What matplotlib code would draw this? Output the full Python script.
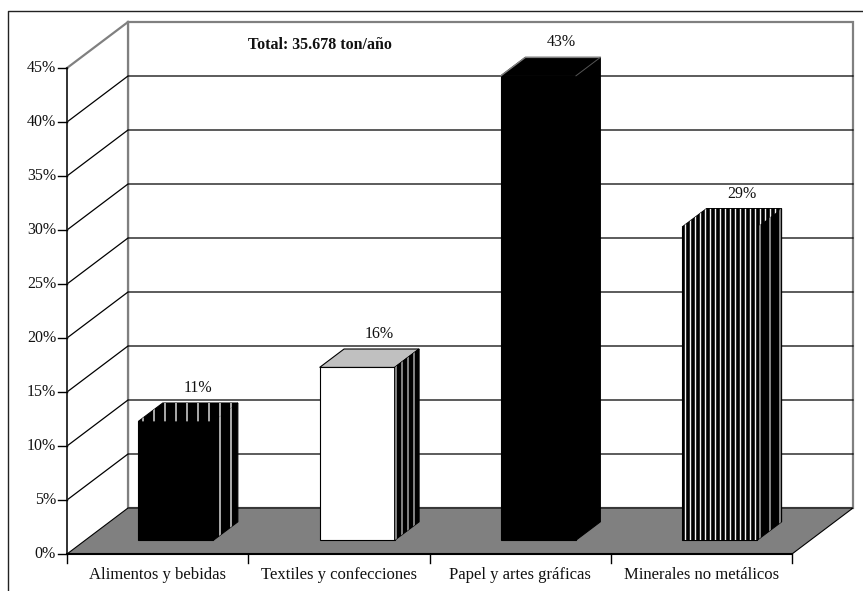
import matplotlib
matplotlib.use("Agg")
import matplotlib.pyplot as plt
from matplotlib.patches import Polygon

# Data
categories = ["Alimentos y bebidas", "Textiles y confecciones",
              "Papel y artes gráficas", "Minerales no metálicos"]
shares = [11, 16, 43, 29]            # percent
value_labels = ["11%", "16%", "43%", "29%"]
yticks = [0, 5, 10, 15, 20, 25, 30, 35, 40, 45]
total_text = "Total: 35.678 ton/año"

FONT = "Liberation Serif"

W, H = 863, 591
fig = plt.figure(figsize=(W / 100, H / 100), dpi=100)
ax = fig.add_axes([0, 0, 1, 1])
ax.set_xlim(0, W)
ax.set_ylim(H, 0)
ax.axis("off")

# oblique projection: category position x, value v (%), depth d (0 front .. 1 back)
X0, Y0 = 67.0, 554.0
CAT_W = 181.25
PX_PER_PCT = 10.8
DX, DY = 61.0, 46.0
VMAX = 45


def proj(x, v, d):
    return (X0 + CAT_W * x + DX * d, Y0 - PX_PER_PCT * v - DY * d)


GRAY = "#808080"

# outer frame
ax.plot([8, 8, W], [H, 11, 11], color="#222222", lw=1.0, zorder=0)

# back wall
n = len(categories)
back = [proj(0, 0, 1), proj(n, 0, 1), proj(n, VMAX, 1), proj(0, VMAX, 1)]
ax.add_patch(Polygon(back, closed=True, fc="white", ec=GRAY, lw=1.6, zorder=1))
# side wall
side = [proj(0, 0, 0), proj(0, 0, 1), proj(0, VMAX, 1), proj(0, VMAX, 0)]
ax.add_patch(Polygon(side, closed=True, fc="white", ec="none", zorder=1))
ax.plot(*zip(proj(0, VMAX, 0), proj(0, VMAX, 1)), color=GRAY, lw=1.6, zorder=2)
ax.plot(*zip(proj(0, 0, 1), proj(0, VMAX, 1)), color=GRAY, lw=1.6, zorder=2)

# gridlines on walls
for t in yticks[1:-1]:
    ax.plot(*zip(proj(0, t, 0), proj(0, t, 1), proj(n, t, 1)),
            color="black", lw=0.9, zorder=2)

# floor
floor = [proj(0, 0, 0), proj(n, 0, 0), proj(n, 0, 1), proj(0, 0, 1)]
ax.add_patch(Polygon(floor, closed=True, fc=GRAY, ec="black", lw=0.8, zorder=3))

# value axis
ax.plot(*zip(proj(0, 0, 0), proj(0, VMAX, 0)), color="#222222", lw=1.3, zorder=4)
for t in yticks:
    px, py = proj(0, t, 0)
    ax.plot([px - 9, px], [py, py], color="black", lw=1.0, zorder=4)
    ax.text(px - 11, py, f"{t}%", ha="right", va="center",
            fontsize=11.5, family=FONT, color="#111111")

# category axis
ax.plot(*zip(proj(0, 0, 0), proj(n, 0, 0)), color="black", lw=1.5, zorder=4)
for i in range(n + 1):
    px, py = proj(i, 0, 0)
    ax.plot([px, px], [py, py + 9], color="black", lw=1.0, zorder=4)
for i, c in enumerate(categories):
    px, py = proj(i + 0.5, 0, 0)
    ax.text(px, py + 21, c, ha="center", va="center",
            fontsize=12, family=FONT, color="#111111")


def striped(poly, fc, line_color, period, lw, z, offset=0.0):
    patch = Polygon(poly, closed=True, fc=fc, ec="black", lw=0.8, zorder=z)
    ax.add_patch(patch)
    if period:
        xs = [p[0] for p in poly]
        ys = [p[1] for p in poly]
        x = (int(min(xs) // period) * period) + offset
        while x <= max(xs):
            ln, = ax.plot([x, x], [min(ys), max(ys)], color=line_color,
                          lw=lw, zorder=z + 0.1)
            ln.set_clip_path(patch)
            x += period
    return patch


# (front fill, front stripes, top fill, top stripes, side fill, side stripes)
styles = [
    ("black", None, "black", (11, "#b8b8b8", 1.3), "black", (11, "#b8b8b8", 1.3)),
    ("white", None, "#c0c0c0", None, "black", (6, "#a8a8a8", 1.1)),
    ("black", None, "black", None, "black", None),
    ("black", (5, "#f4f4f4", 1.0), "black", (5, "#f4f4f4", 1.0), "black", (10, "#a8a8a8", 1.1)),
]

BL, BR = 0.293, 0.707     # bar extent within its category
D0, D1 = 0.3, 0.7         # bar depth extent

for i, v in enumerate(shares):
    x0, x1 = i + BL, i + BR
    front = [proj(x0, 0, D0), proj(x1, 0, D0), proj(x1, v, D0), proj(x0, v, D0)]
    top = [proj(x0, v, D0), proj(x1, v, D0), proj(x1, v, D1), proj(x0, v, D1)]
    rside = [proj(x1, 0, D0), proj(x1, 0, D1), proj(x1, v, D1), proj(x1, v, D0)]
    ffc, fst, tfc, tst, sfc, sst = styles[i]
    z = 5 + i
    for poly, fc, st in ((front, ffc, fst), (top, tfc, tst), (rside, sfc, sst)):
        if st:
            striped(poly, fc, st[1], st[0], st[2], z)
        else:
            striped(poly, fc, None, None, 0, z)
    if i == 2:
        # light edges on the solid bar
        ax.plot(*zip(proj(x0, v, D0), proj(x0, v, D1), proj(x1, v, D1)),
                color=GRAY, lw=1.0, zorder=z + 0.2)
        ax.plot(*zip(proj(x1, v, D0), proj(x1, v, D1)),
                color="#555555", lw=0.7, zorder=z + 0.2)
    lx, ly = proj((x0 + x1) / 2, v, D1)
    ax.text(lx - 2, ly - 15, value_labels[i], ha="center", va="center",
            fontsize=11.5, family=FONT, color="#111111", zorder=10)

ax.text(320, 45, total_text, ha="center", va="center", fontsize=11.5,
        family=FONT, weight="bold", color="#111111", zorder=10)

fig.savefig("out.png", dpi=100)
